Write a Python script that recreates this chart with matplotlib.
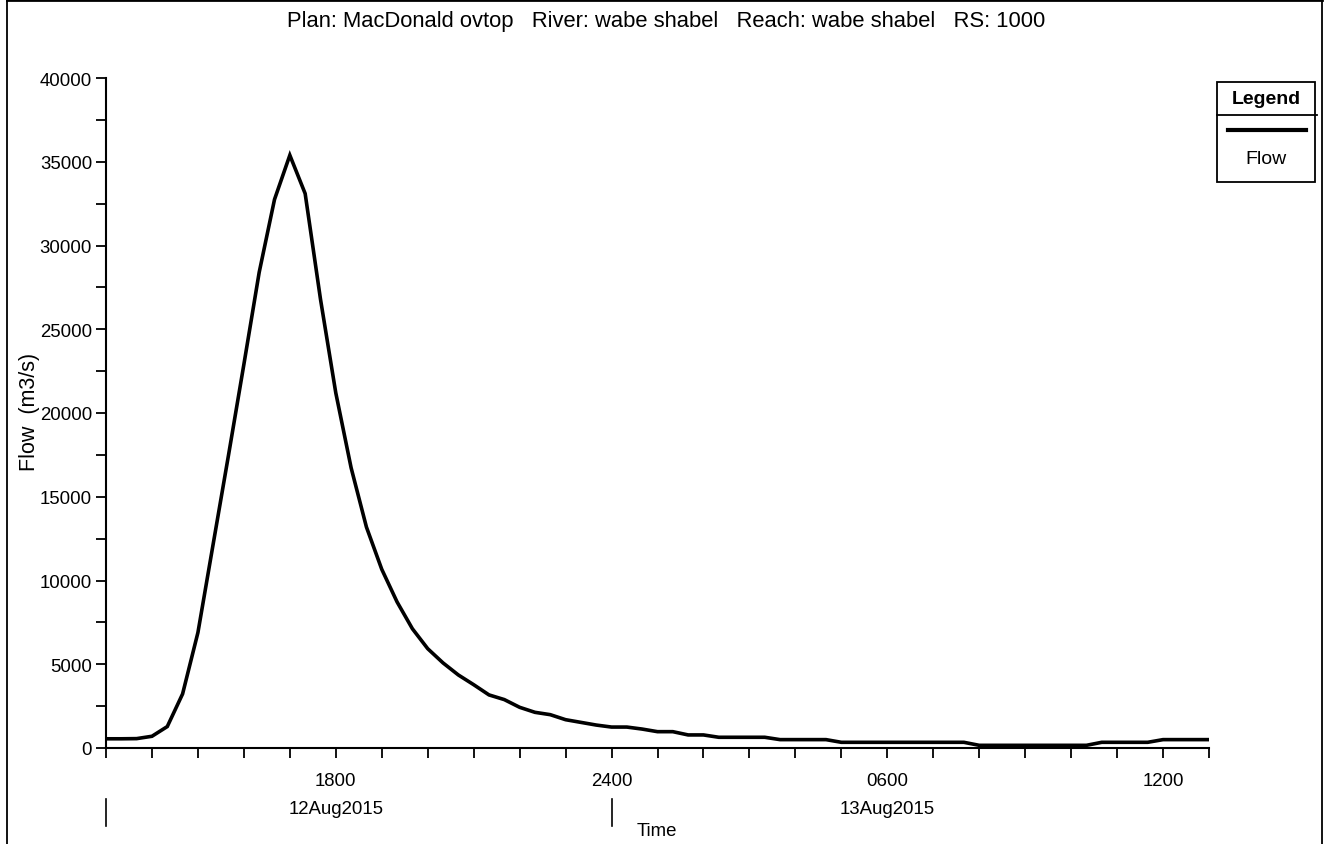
import numpy as np
import matplotlib
matplotlib.use('Agg')
import matplotlib.pyplot as plt
import matplotlib.transforms as mtrans
from matplotlib.patches import Rectangle
from matplotlib.lines import Line2D
from matplotlib.ticker import MultipleLocator

plt.rcParams['font.family'] = ['Liberation Sans', 'DejaVu Sans']

# flow hydrograph, 20 minute output starting 12Aug2015 1300
flow = [550, 550, 560, 700, 1280, 3230, 6890, 12200, 17500, 22900,
        28400, 32750, 35390, 33100, 26800, 21200, 16730, 13190, 10670, 8720,
        7120, 5930, 5080, 4360, 3780, 3170, 2890, 2430, 2130, 1990,
        1690, 1530, 1370, 1250, 1250, 1130, 975, 975, 780, 780,
        640, 640, 640, 640, 500, 500, 500, 500, 340, 340,
        340, 340, 340, 340, 340, 340, 340, 160, 160, 160,
        160, 160, 160, 160, 160, 340, 340, 340, 340, 500,
        500, 500, 500]
step_h = 1.0 / 3.0
hours = np.arange(len(flow)) * step_h

tick_hours = [5, 11, 17, 23]
tick_labels = ['1800', '2400', '0600', '1200']
date_hours = [5, 17]
date_labels = ['12Aug2015', '13Aug2015']
day_marks = [0, 11]

title = 'Plan: MacDonald ovtop   River: wabe shabel   Reach: wabe shabel   RS: 1000'

W, H = 1331, 845
fs = 13.4


def fx(x):
    return x / W


def fy(y):
    return 1 - y / H


fig = plt.figure(figsize=(W / 100, H / 100), dpi=100)
ax = fig.add_axes([fx(106), fy(749), (1209 - 106) / W, (749 - 79) / H])

ax.plot(hours, flow, color='black', lw=2.6, solid_joinstyle='miter')
ax.set_xlim(0, 24)
ax.set_ylim(0, 40000)

for s in ['top', 'right']:
    ax.spines[s].set_visible(False)
for s in ['left', 'bottom']:
    ax.spines[s].set_linewidth(1.5)

ax.set_yticks(range(0, 40001, 5000))
ax.yaxis.set_minor_locator(MultipleLocator(2500))
ax.set_xticks(tick_hours)
ax.set_xticklabels(tick_labels)
ax.xaxis.set_minor_locator(MultipleLocator(1))
ax.tick_params(which='both', direction='out', length=7, width=1.3)
ax.tick_params(axis='y', labelsize=fs, pad=3)
ax.tick_params(axis='x', labelsize=fs, pad=10)

# date labels and day separators under the time axis
tr = mtrans.blended_transform_factory(ax.transData, fig.transFigure)
for h, lab in zip(date_hours, date_labels):
    ax.text(h, fy(810), lab, transform=tr, ha='center', va='center', fontsize=fs)
for h in day_marks:
    fig.add_artist(Line2D([h, h], [fy(800), fy(827)], transform=tr, color='black', lw=1.2))

fig.text(fx(657), fy(832), 'Time', ha='center', va='center', fontsize=fs)
fig.text(fx(30), fy(412), 'Flow  (m3/s)', rotation=90, ha='center', va='center', fontsize=15.5)
fig.text(fx(666), fy(22), title, ha='center', va='center', fontsize=15.8)

# legend box
fig.add_artist(Rectangle((fx(1217), fy(183)), 98 / W, 100 / H, transform=fig.transFigure,
                         fill=False, edgecolor='black', lw=1.3))
fig.add_artist(Line2D([fx(1217), fx(1317)], [fy(116), fy(116)], transform=fig.transFigure,
                      color='black', lw=1.3))
fig.add_artist(Line2D([fx(1228), fx(1306)], [fy(131), fy(131)], transform=fig.transFigure,
                      color='black', lw=3))
fig.text(fx(1266), fy(99), 'Legend', ha='center', va='center', fontsize=14, fontweight='bold')
fig.text(fx(1266), fy(160), 'Flow', ha='center', va='center', fontsize=14)

# outer frame
fig.add_artist(Line2D([fx(7), fx(7)], [0, 1], transform=fig.transFigure, color='black', lw=1.3))
fig.add_artist(Line2D([fx(1322), fx(1322)], [0, 1], transform=fig.transFigure, color='black', lw=1.3))
fig.add_artist(Line2D([fx(7), fx(1322)], [fy(1), fy(1)], transform=fig.transFigure, color='black', lw=2))

fig.savefig('out.png', dpi=100)
